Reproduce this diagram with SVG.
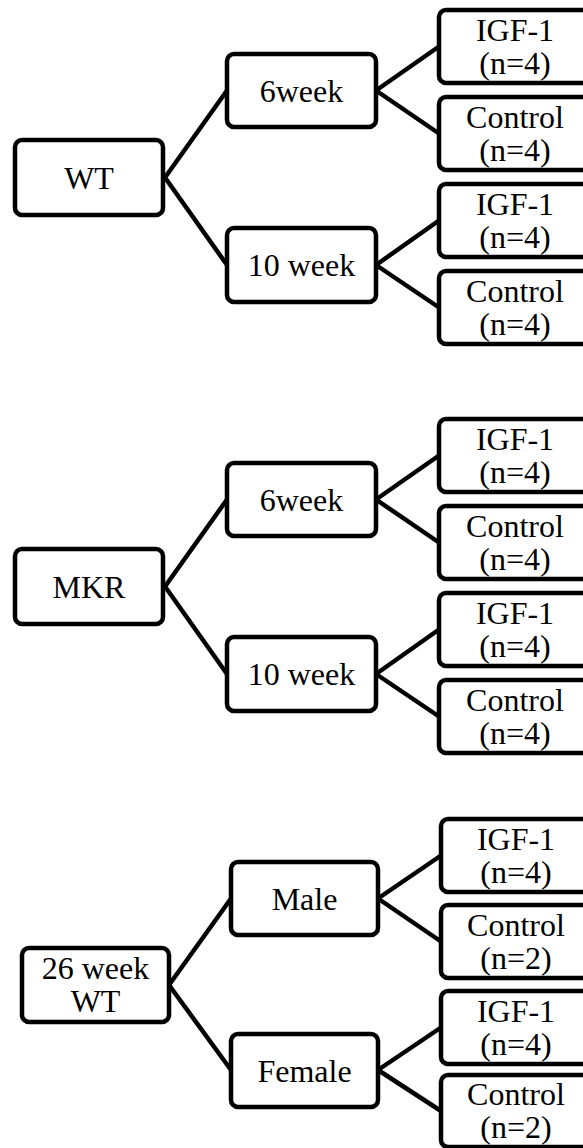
<svg xmlns="http://www.w3.org/2000/svg" width="583" height="1148" viewBox="0 0 583 1148">
<style>
.box{fill:#fff;stroke:#000;stroke-width:4.5}
.ln{stroke:#000;stroke-width:4.5;fill:none;stroke-linecap:round}
text{font-family:"Liberation Serif","Times New Roman",serif;font-size:32px;fill:#000;text-anchor:middle}
</style>
<rect width="583" height="1148" fill="#fff"/>
<g id="connectors">
<path class="ln" d="M165,177.5L227,90.5M165,177.5L227,265M376,90.5L439,46.5M376,90.5L439,133.5M376,265L439,220.5M376,265L439,307.5"/>
<path class="ln" d="M165,586.5L227,499.5M165,586.5L227,674M376,499.5L439,455.5M376,499.5L439,542.5M376,674L439,629.5M376,674L439,716.5"/>
<path class="ln" d="M169,985L231,898.5M169,985L231,1070M378,898.5L441,855.5M378,898.5L441,941.5M378,1070L441,1027.5M378,1070L441,1111"/>
</g>
<g id="wt"><rect class="box" x="15" y="140" width="148" height="75" rx="7"/><text x="89" y="188.5">WT</text></g>
<g id="wt-6week"><rect class="box" x="227" y="54" width="149" height="73" rx="7"/><text x="301.5" y="101.5">6week</text></g>
<g id="wt-10week"><rect class="box" x="227" y="228" width="149" height="74" rx="7"/><text x="301.5" y="276">10 week</text></g>
<g id="wt-6-igf"><rect class="box" x="439" y="10" width="170" height="73" rx="7"/><text x="515" y="40.5">IGF-1</text><text x="515" y="73.5">(n=4)</text></g>
<g id="wt-6-ctrl"><rect class="box" x="439" y="97" width="170" height="73" rx="7"/><text x="515" y="127.5">Control</text><text x="515" y="160.5">(n=4)</text></g>
<g id="wt-10-igf"><rect class="box" x="439" y="184" width="170" height="73" rx="7"/><text x="515" y="214.5">IGF-1</text><text x="515" y="247.5">(n=4)</text></g>
<g id="wt-10-ctrl"><rect class="box" x="439" y="271" width="170" height="73" rx="7"/><text x="515" y="301.5">Control</text><text x="515" y="334.5">(n=4)</text></g>

<g id="mkr"><rect class="box" x="15" y="549" width="148" height="75" rx="7"/><text x="89" y="597.5">MKR</text></g>
<g id="mkr-6week"><rect class="box" x="227" y="463" width="149" height="73" rx="7"/><text x="301.5" y="510.5">6week</text></g>
<g id="mkr-10week"><rect class="box" x="227" y="637" width="149" height="74" rx="7"/><text x="301.5" y="685">10 week</text></g>
<g id="mkr-6-igf"><rect class="box" x="439" y="419" width="170" height="73" rx="7"/><text x="515" y="449.5">IGF-1</text><text x="515" y="482.5">(n=4)</text></g>
<g id="mkr-6-ctrl"><rect class="box" x="439" y="506" width="170" height="73" rx="7"/><text x="515" y="536.5">Control</text><text x="515" y="569.5">(n=4)</text></g>
<g id="mkr-10-igf"><rect class="box" x="439" y="593" width="170" height="73" rx="7"/><text x="515" y="623.5">IGF-1</text><text x="515" y="656.5">(n=4)</text></g>
<g id="mkr-10-ctrl"><rect class="box" x="439" y="680" width="170" height="73" rx="7"/><text x="515" y="710.5">Control</text><text x="515" y="743.5">(n=4)</text></g>

<g id="wt26"><rect class="box" x="22" y="948" width="147" height="74" rx="7"/><text x="95.5" y="978.5">26 week</text><text x="95.5" y="1011.5">WT</text></g>
<g id="male"><rect class="box" x="231" y="862" width="147" height="73" rx="7"/><text x="304.5" y="909.5">Male</text></g>
<g id="female"><rect class="box" x="231" y="1034" width="147" height="73" rx="7"/><text x="304.5" y="1081.5">Female</text></g>
<g id="male-igf"><rect class="box" x="441" y="819" width="170" height="73" rx="7"/><text x="516" y="849.5">IGF-1</text><text x="516" y="882.5">(n=4)</text></g>
<g id="male-ctrl"><rect class="box" x="441" y="905" width="170" height="73" rx="7"/><text x="516" y="935.5">Control</text><text x="516" y="968.5">(n=2)</text></g>
<g id="female-igf"><rect class="box" x="441" y="991" width="170" height="73" rx="7"/><text x="516" y="1021.5">IGF-1</text><text x="516" y="1054.5">(n=4)</text></g>
<g id="female-ctrl"><rect class="box" x="441" y="1075" width="170" height="72" rx="7"/><text x="516" y="1104.5">Control</text><text x="516" y="1137.5">(n=2)</text></g>
</svg>
